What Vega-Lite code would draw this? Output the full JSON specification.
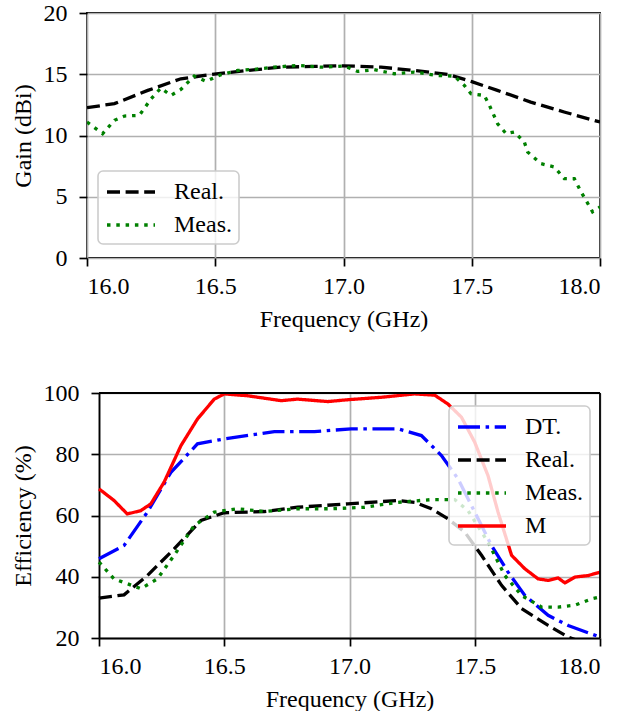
{
  "$schema": "https://vega.github.io/schema/vega-lite/v6.json",
  "padding": {"left": 10, "top": 0, "right": 10, "bottom": 0},
  "datasets": {
    "gain": [
      {"f": 16.0, "v": 12.27, "s": "Real."}, {"f": 16.107, "v": 12.6, "s": "Real."}, {"f": 16.237, "v": 13.68, "s": "Real."},
      {"f": 16.366, "v": 14.63, "s": "Real."}, {"f": 16.496, "v": 15.01, "s": "Real."}, {"f": 16.626, "v": 15.31, "s": "Real."},
      {"f": 16.756, "v": 15.58, "s": "Real."}, {"f": 16.886, "v": 15.64, "s": "Real."}, {"f": 17.0, "v": 15.69, "s": "Real."},
      {"f": 17.146, "v": 15.58, "s": "Real."}, {"f": 17.276, "v": 15.31, "s": "Real."}, {"f": 17.406, "v": 14.99, "s": "Real."},
      {"f": 17.5, "v": 14.4, "s": "Real."}, {"f": 17.6, "v": 13.68, "s": "Real."}, {"f": 17.73, "v": 12.73, "s": "Real."},
      {"f": 17.86, "v": 11.92, "s": "Real."}, {"f": 18.0, "v": 11.1, "s": "Real."},
      {"f": 16.0, "v": 11.1, "s": "Meas."}, {"f": 16.061, "v": 10.15, "s": "Meas."}, {"f": 16.107, "v": 11.24, "s": "Meas."},
      {"f": 16.146, "v": 11.59, "s": "Meas."}, {"f": 16.204, "v": 11.64, "s": "Meas."}, {"f": 16.25, "v": 13.0, "s": "Meas."},
      {"f": 16.288, "v": 13.87, "s": "Meas."}, {"f": 16.327, "v": 13.27, "s": "Meas."}, {"f": 16.366, "v": 13.76, "s": "Meas."},
      {"f": 16.418, "v": 14.85, "s": "Meas."}, {"f": 16.464, "v": 14.42, "s": "Meas."}, {"f": 16.522, "v": 14.96, "s": "Meas."},
      {"f": 16.587, "v": 15.31, "s": "Meas."}, {"f": 16.652, "v": 15.4, "s": "Meas."}, {"f": 16.73, "v": 15.58, "s": "Meas."},
      {"f": 16.82, "v": 15.72, "s": "Meas."}, {"f": 16.912, "v": 15.58, "s": "Meas."}, {"f": 17.003, "v": 15.67, "s": "Meas."},
      {"f": 17.055, "v": 15.23, "s": "Meas."}, {"f": 17.12, "v": 15.37, "s": "Meas."}, {"f": 17.198, "v": 15.04, "s": "Meas."},
      {"f": 17.276, "v": 15.18, "s": "Meas."}, {"f": 17.367, "v": 14.9, "s": "Meas."}, {"f": 17.432, "v": 14.85, "s": "Meas."},
      {"f": 17.471, "v": 14.09, "s": "Meas."}, {"f": 17.497, "v": 13.41, "s": "Meas."}, {"f": 17.549, "v": 13.27, "s": "Meas."},
      {"f": 17.569, "v": 12.46, "s": "Meas."}, {"f": 17.601, "v": 10.96, "s": "Meas."}, {"f": 17.634, "v": 10.15, "s": "Meas."},
      {"f": 17.666, "v": 10.29, "s": "Meas."}, {"f": 17.705, "v": 9.47, "s": "Meas."}, {"f": 17.718, "v": 8.65, "s": "Meas."},
      {"f": 17.77, "v": 7.7, "s": "Meas."}, {"f": 17.822, "v": 7.43, "s": "Meas."}, {"f": 17.861, "v": 6.48, "s": "Meas."},
      {"f": 17.9, "v": 6.48, "s": "Meas."}, {"f": 17.926, "v": 5.4, "s": "Meas."}, {"f": 17.945, "v": 4.72, "s": "Meas."},
      {"f": 17.971, "v": 3.77, "s": "Meas."}, {"f": 18.0, "v": 4.17, "s": "Meas."}
    ],
    "eff": [
      {"f": 16.0, "v": 45.9, "s": "DT."}, {"f": 16.1, "v": 50.2, "s": "DT."}, {"f": 16.193, "v": 61.1, "s": "DT."},
      {"f": 16.287, "v": 74.1, "s": "DT."}, {"f": 16.393, "v": 83.4, "s": "DT."}, {"f": 16.5, "v": 85.0, "s": "DT."},
      {"f": 16.7, "v": 87.4, "s": "DT."}, {"f": 16.86, "v": 87.4, "s": "DT."}, {"f": 17.007, "v": 88.3, "s": "DT."},
      {"f": 17.193, "v": 88.3, "s": "DT."}, {"f": 17.287, "v": 86.1, "s": "DT."}, {"f": 17.367, "v": 79.6, "s": "DT."},
      {"f": 17.433, "v": 72.0, "s": "DT."}, {"f": 17.5, "v": 61.1, "s": "DT."}, {"f": 17.567, "v": 50.2, "s": "DT."},
      {"f": 17.633, "v": 41.5, "s": "DT."}, {"f": 17.7, "v": 33.9, "s": "DT."}, {"f": 17.793, "v": 27.4, "s": "DT."},
      {"f": 17.873, "v": 24.1, "s": "DT."}, {"f": 18.0, "v": 20.3, "s": "DT."},
      {"f": 16.0, "v": 33.0, "s": "Real."}, {"f": 16.1, "v": 34.1, "s": "Real."}, {"f": 16.193, "v": 40.4, "s": "Real."},
      {"f": 16.3, "v": 49.1, "s": "Real."}, {"f": 16.407, "v": 58.4, "s": "Real."}, {"f": 16.5, "v": 60.9, "s": "Real."},
      {"f": 16.66, "v": 61.3, "s": "Real."}, {"f": 16.793, "v": 62.7, "s": "Real."}, {"f": 16.993, "v": 63.8, "s": "Real."},
      {"f": 17.193, "v": 64.9, "s": "Real."}, {"f": 17.26, "v": 64.3, "s": "Real."}, {"f": 17.327, "v": 62.2, "s": "Real."},
      {"f": 17.393, "v": 58.9, "s": "Real."}, {"f": 17.46, "v": 54.6, "s": "Real."}, {"f": 17.527, "v": 47.0, "s": "Real."},
      {"f": 17.607, "v": 37.2, "s": "Real."}, {"f": 17.687, "v": 29.6, "s": "Real."}, {"f": 17.793, "v": 24.1, "s": "Real."},
      {"f": 17.873, "v": 20.3, "s": "Real."}, {"f": 17.95, "v": 18.0, "s": "Real."},
      {"f": 16.0, "v": 44.8, "s": "Meas."}, {"f": 16.06, "v": 39.3, "s": "Meas."}, {"f": 16.167, "v": 36.1, "s": "Meas."},
      {"f": 16.233, "v": 39.3, "s": "Meas."}, {"f": 16.3, "v": 47.0, "s": "Meas."}, {"f": 16.38, "v": 56.7, "s": "Meas."},
      {"f": 16.46, "v": 61.1, "s": "Meas."}, {"f": 16.553, "v": 62.2, "s": "Meas."}, {"f": 16.66, "v": 61.3, "s": "Meas."},
      {"f": 16.793, "v": 62.2, "s": "Meas."}, {"f": 16.927, "v": 62.2, "s": "Meas."}, {"f": 17.06, "v": 62.7, "s": "Meas."},
      {"f": 17.193, "v": 64.3, "s": "Meas."}, {"f": 17.327, "v": 65.2, "s": "Meas."}, {"f": 17.42, "v": 65.2, "s": "Meas."},
      {"f": 17.473, "v": 61.6, "s": "Meas."}, {"f": 17.553, "v": 51.3, "s": "Meas."}, {"f": 17.62, "v": 40.4, "s": "Meas."},
      {"f": 17.687, "v": 33.9, "s": "Meas."}, {"f": 17.767, "v": 30.1, "s": "Meas."}, {"f": 17.833, "v": 30.1, "s": "Meas."},
      {"f": 17.9, "v": 30.7, "s": "Meas."}, {"f": 17.967, "v": 32.8, "s": "Meas."}, {"f": 18.0, "v": 33.4, "s": "Meas."},
      {"f": 16.0, "v": 68.7, "s": "M"}, {"f": 16.06, "v": 64.9, "s": "M"}, {"f": 16.113, "v": 60.5, "s": "M"},
      {"f": 16.167, "v": 61.6, "s": "M"}, {"f": 16.207, "v": 63.8, "s": "M"}, {"f": 16.26, "v": 70.9, "s": "M"},
      {"f": 16.327, "v": 82.8, "s": "M"}, {"f": 16.393, "v": 91.5, "s": "M"}, {"f": 16.46, "v": 98.0, "s": "M"},
      {"f": 16.5, "v": 99.7, "s": "M"}, {"f": 16.593, "v": 99.1, "s": "M"}, {"f": 16.727, "v": 97.5, "s": "M"},
      {"f": 16.793, "v": 98.0, "s": "M"}, {"f": 16.913, "v": 97.2, "s": "M"}, {"f": 16.993, "v": 97.8, "s": "M"},
      {"f": 17.127, "v": 98.6, "s": "M"}, {"f": 17.26, "v": 99.7, "s": "M"}, {"f": 17.34, "v": 99.3, "s": "M"},
      {"f": 17.393, "v": 96.4, "s": "M"}, {"f": 17.447, "v": 92.1, "s": "M"}, {"f": 17.5, "v": 83.9, "s": "M"},
      {"f": 17.553, "v": 73.0, "s": "M"}, {"f": 17.593, "v": 61.1, "s": "M"}, {"f": 17.647, "v": 47.0, "s": "M"},
      {"f": 17.7, "v": 42.6, "s": "M"}, {"f": 17.753, "v": 39.3, "s": "M"}, {"f": 17.793, "v": 38.8, "s": "M"},
      {"f": 17.833, "v": 39.6, "s": "M"}, {"f": 17.86, "v": 38.0, "s": "M"}, {"f": 17.9, "v": 39.9, "s": "M"},
      {"f": 17.953, "v": 40.4, "s": "M"}, {"f": 18.0, "v": 41.5, "s": "M"}
    ],
    "frame": [
      {"fa": 16, "fb": 18, "va": 100, "vb": 100},
      {"fa": 18, "fb": 18, "va": 20, "vb": 100}
    ]
  },
  "spacing": 49,
  "resolve": {
    "scale": {"color": "independent", "strokeDash": "independent"},
    "legend": {"color": "independent", "strokeDash": "independent"}
  },
  "vconcat": [
    {
      "width": 513,
      "height": 245,
      "view": {"stroke": "#000000", "strokeWidth": 1.8},
      "data": {"name": "gain"},
      "mark": {"type": "line", "strokeWidth": 3.3, "clip": true},
      "encoding": {
        "x": {"field": "f", "type": "quantitative", "title": "Frequency (GHz)",
              "scale": {"domain": [16, 18], "nice": false},
              "axis": {"values": [16, 16.5, 17, 17.5, 18], "format": ".1f"}},
        "y": {"field": "v", "type": "quantitative", "title": "Gain (dBi)",
              "scale": {"domain": [0, 20], "nice": false},
              "axis": {"values": [0, 5, 10, 15, 20]}},
        "color": {"field": "s", "type": "nominal", "sort": null,
                  "scale": {"domain": ["Real.", "Meas."], "range": ["#000000", "#008000"]},
                  "legend": {"orient": "none", "legendX": 11, "legendY": 158, "title": null}},
        "strokeDash": {"field": "s", "type": "nominal", "sort": null,
                  "scale": {"domain": ["Real.", "Meas."], "range": [[13, 5.6], [3.5, 5.8]]},
                  "legend": {"orient": "none", "legendX": 11, "legendY": 158, "title": null}}
      }
    },
    {
      "width": 513,
      "height": 245,
      "view": {"stroke": null},
      "resolve": {"axis": {"x": "shared", "y": "shared"}},
      "layer": [
        {
          "data": {"name": "eff"},
          "mark": {"type": "line", "strokeWidth": 3.3, "clip": true},
          "encoding": {
            "x": {"field": "f", "type": "quantitative", "title": "Frequency (GHz)",
                  "scale": {"domain": [16, 18], "nice": false, "zero": false, "range": [12, 513]},
                  "axis": {"values": [16, 16.5, 17, 17.5, 18], "format": ".1f",
                           "domain": true, "domainColor": "#000000", "domainWidth": 1.8}},
            "y": {"field": "v", "type": "quantitative", "title": "Efficiency (%)",
                  "scale": {"domain": [20, 100], "nice": false, "zero": false},
                  "axis": {"values": [20, 40, 60, 80, 100], "offset": -12,
                           "domain": true, "domainColor": "#000000", "domainWidth": 1.8}},
            "color": {"field": "s", "type": "nominal", "sort": null,
                      "scale": {"domain": ["DT.", "Real.", "Meas.", "M"], "range": ["#0000ff", "#000000", "#008000", "#ff0000"]},
                      "legend": {"orient": "none", "legendX": 362, "legendY": 13, "title": null}},
            "strokeDash": {"field": "s", "type": "nominal", "sort": null,
                      "scale": {"domain": ["DT.", "Real.", "Meas.", "M"], "range": [[22, 5.6, 3.5, 5.6], [13, 5.6], [3.5, 5.8], [1, 0]]},
                      "legend": {"orient": "none", "legendX": 362, "legendY": 13, "title": null}}
          }
        },
        {
          "data": {"name": "frame"},
          "mark": {"type": "rule", "color": "#000000", "strokeWidth": 1.8},
          "encoding": {
            "x": {"field": "fa", "type": "quantitative", "title": "Frequency (GHz)",
                  "scale": {"domain": [16, 18], "nice": false, "zero": false, "range": [12, 513]},
                  "axis": {"values": [16, 16.5, 17, 17.5, 18], "format": ".1f",
                           "domain": true, "domainColor": "#000000", "domainWidth": 1.8}},
            "x2": {"field": "fb"},
            "y": {"field": "va", "type": "quantitative", "title": "Efficiency (%)",
                  "scale": {"domain": [20, 100], "nice": false, "zero": false},
                  "axis": {"values": [20, 40, 60, 80, 100], "offset": -12,
                           "domain": true, "domainColor": "#000000", "domainWidth": 1.8}},
            "y2": {"field": "vb"}
          }
        }
      ]
    }
  ],
  "config": {
    "axis": {
      "domain": false,
      "grid": true, "gridColor": "#b0b0b0", "gridWidth": 1.7,
      "ticks": true, "tickColor": "#000000", "tickSize": 8, "tickWidth": 1.7,
      "labelFont": "Liberation Serif", "labelFontSize": 24, "labelColor": "#000000",
      "labelPadding": 8,
      "titleFont": "Liberation Serif", "titleFontSize": 24, "titleFontWeight": "normal", "titleColor": "#000000",
      "titlePadding": 9
    },
    "axisY": {"labelPadding": 12, "titlePadding": 8},
    "legend": {
      "labelFont": "Liberation Serif", "labelFontSize": 24, "labelColor": "#000000",
      "symbolType": "M-1,0H3", "symbolSize": 576, "symbolStrokeWidth": 3.3,
      "labelOffset": 41, "rowPadding": 7, "padding": 7,
      "fillColor": "rgba(255,255,255,0.8)", "strokeColor": "#cccccc", "cornerRadius": 5,
      "strokeWidth": 1.6, "symbolOpacity": 1
    }
  }
}
